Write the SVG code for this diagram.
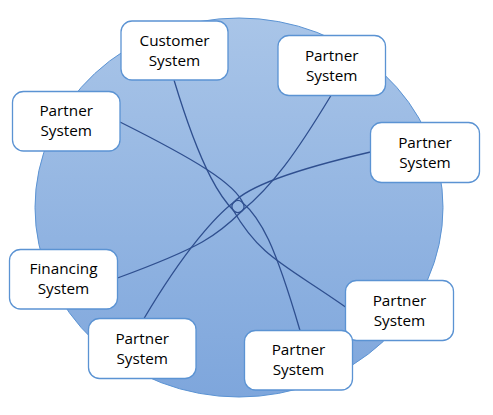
<svg xmlns="http://www.w3.org/2000/svg" width="493" height="415" viewBox="0 0 493 415">
  <defs>
    <linearGradient id="bg" x1="0" y1="0" x2="0" y2="1">
      <stop offset="0" stop-color="#a9c5e8"/>
      <stop offset="1" stop-color="#7ea6dc"/>
    </linearGradient>
    <style>
      .node rect { fill: #ffffff; stroke: #5b93d3; stroke-width: 1.3; }
      .node text { font-family: "Open Sans", "Liberation Sans", sans-serif; font-size: 15.3px; fill: #000000; text-anchor: middle; }
      .conn path { fill: none; stroke: #2f4f8f; stroke-width: 1.3; }
    </style>
  </defs>
  <ellipse id="platform" cx="239" cy="207.5" rx="204" ry="189.5" fill="url(#bg)" stroke="#5b93d3" stroke-width="1"/>
  <g id="connectors" class="conn">
    <path d="M174,80 C203,176 223.2,200.1 233.76,210.74 A6,6 0 0 0 241.83,211.12 C272.6,185.5 294.7,155.4 331,95.5"/>
    <path d="M120,122 C193.3,158.7 236.1,183.8 243.64,204.45 A6,6 0 0 1 242.24,210.74 C217.5,235.4 201.9,246.9 117.5,278"/>
    <path d="M144,318.5 C185.4,248.8 216.8,214.9 234.39,201.71 A6,6 0 0 1 241.84,201.89 C261,217.9 274.6,244.2 300,330.5"/>
    <path d="M370.5,152 C292.6,170.1 248.2,186.2 233.54,202.49 A6,6 0 0 0 232.8,209.5 C260.3,257.4 284.1,264 345.5,307"/>
  </g>
  <g id="customer" class="node">
    <rect x="121" y="21" width="107" height="59" rx="11"/>
    <text x="174.5" y="45.5">Customer</text>
    <text x="174.5" y="65.5">System</text>
  </g>
  <g id="partner-top-left" class="node">
    <rect x="12.5" y="91.5" width="107.5" height="59.5" rx="11"/>
    <text x="66.2" y="116.2">Partner</text>
    <text x="66.2" y="136.2">System</text>
  </g>
  <g id="partner-top-right" class="node">
    <rect x="278" y="35.5" width="107.5" height="60" rx="11"/>
    <text x="331.7" y="60.5">Partner</text>
    <text x="331.7" y="80.5">System</text>
  </g>
  <g id="partner-right" class="node">
    <rect x="370.5" y="122.5" width="109" height="60" rx="11"/>
    <text x="425" y="147.5">Partner</text>
    <text x="425" y="167.5">System</text>
  </g>
  <g id="financing" class="node">
    <rect x="9.5" y="249.5" width="108" height="59.5" rx="11"/>
    <text x="63.5" y="274.2">Financing</text>
    <text x="63.5" y="294.2">System</text>
  </g>
  <g id="partner-bottom-left" class="node">
    <rect x="88.5" y="318.5" width="107.5" height="60" rx="11"/>
    <text x="142.2" y="343.5">Partner</text>
    <text x="142.2" y="363.5">System</text>
  </g>
  <g id="partner-right-lower" class="node">
    <rect x="345.5" y="280.5" width="108" height="60" rx="11"/>
    <text x="399.5" y="305.5">Partner</text>
    <text x="399.5" y="325.5">System</text>
  </g>
  <g id="partner-bottom" class="node">
    <rect x="244.5" y="330.5" width="108" height="59.5" rx="11"/>
    <text x="298.5" y="355.2">Partner</text>
    <text x="298.5" y="375.2">System</text>
  </g>
</svg>
